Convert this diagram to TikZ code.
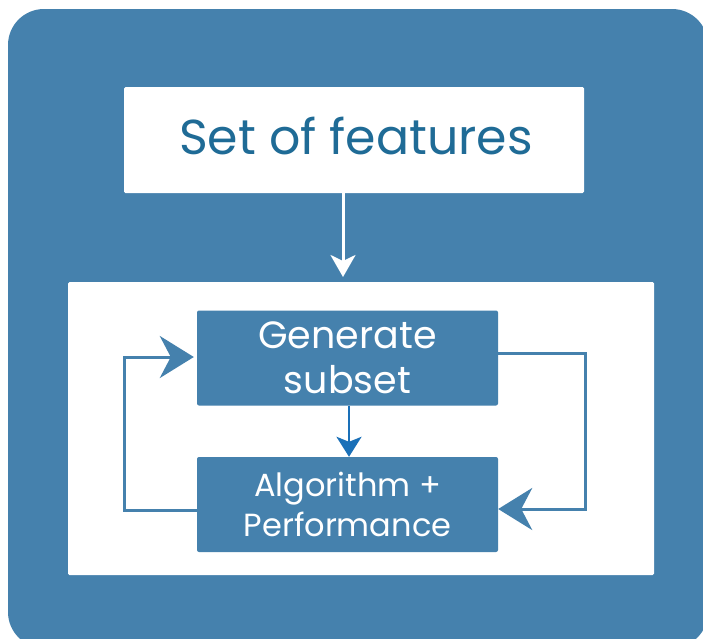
\documentclass[tikz,border=0pt]{standalone}
\usepackage{fontspec}
\setmainfont{Poppins}
\usetikzlibrary{arrows.meta,calc}
\definecolor{steel}{HTML}{4581AD}
\definecolor{inkblue}{HTML}{1F6B96}
\definecolor{flowblue}{HTML}{1A70B8}
\begin{document}
\begin{tikzpicture}[x=1pt,y=-1pt,
  card/.style={fill=white, inner sep=0pt, rounded corners=1.5pt},
  stepbox/.style={fill=steel, text=white, rounded corners=2pt, minimum width=301pt,
    minimum height=95pt, inner sep=0pt, align=center},
  loopline/.style={draw=steel, line width=3pt, -{Stealth[length=34pt,width=42pt,inset=11pt]}},
]
\useasboundingbox (0,0) rectangle (703,638);
\clip (0,0) rectangle (703,638);
% outer rounded panel
\fill[steel, rounded corners=36pt] (8,9) rectangle (708,648);

% title card
\node[card, minimum width=460pt, minimum height=106pt] (feat) at (354,140) {};
\node[text=inkblue, font=\fontsize{49}{58}\selectfont] (title) at (356,136) {Set of features};

% white working area
\node[card, minimum width=586pt, minimum height=293pt] (panel) at (361,428.5) {};

% loop steps
\node[stepbox, font=\fontsize{38}{46}\selectfont] (gen) at (347.5,358)
  {Generate\\[-1pt]subset};
\node[stepbox, font=\fontsize{32}{40}\selectfont] (algo) at (347.5,504.5)
  {Algorithm +\\Performance};

% feed arrow into the working area
\coordinate (dropend) at (343,277);
\draw[white, line width=3pt, -{Stealth[length=22pt,width=25pt,inset=6pt]}]
  (feat.south -| dropend) -- (dropend);

% step-to-step arrow
\draw[flowblue, line width=2.5pt, -{Stealth[length=20pt,width=25pt,inset=5pt]}]
  ($(gen.south)+(1.5,0)$) -- ($(algo.north)+(1.5,0)$);

% feedback loops
\coordinate (lcol) at (124,0);
\coordinate (rcol) at (585,0);
\draw[loopline] ($(algo.west)+(0,5.5)$) -- (lcol |- {$(algo.west)+(0,5.5)$})
  -- (lcol |- {$(gen.west)+(0,-1)$}) -- ($(gen.west)+(-3,-1)$);
\draw[loopline] ($(gen.east)+(0,-5)$) -- (rcol |- {$(gen.east)+(0,-5)$})
  -- (rcol |- {$(algo.east)+(0,4.5)$}) -- ($(algo.east)+(0,4.5)$);
\end{tikzpicture}
\end{document}
